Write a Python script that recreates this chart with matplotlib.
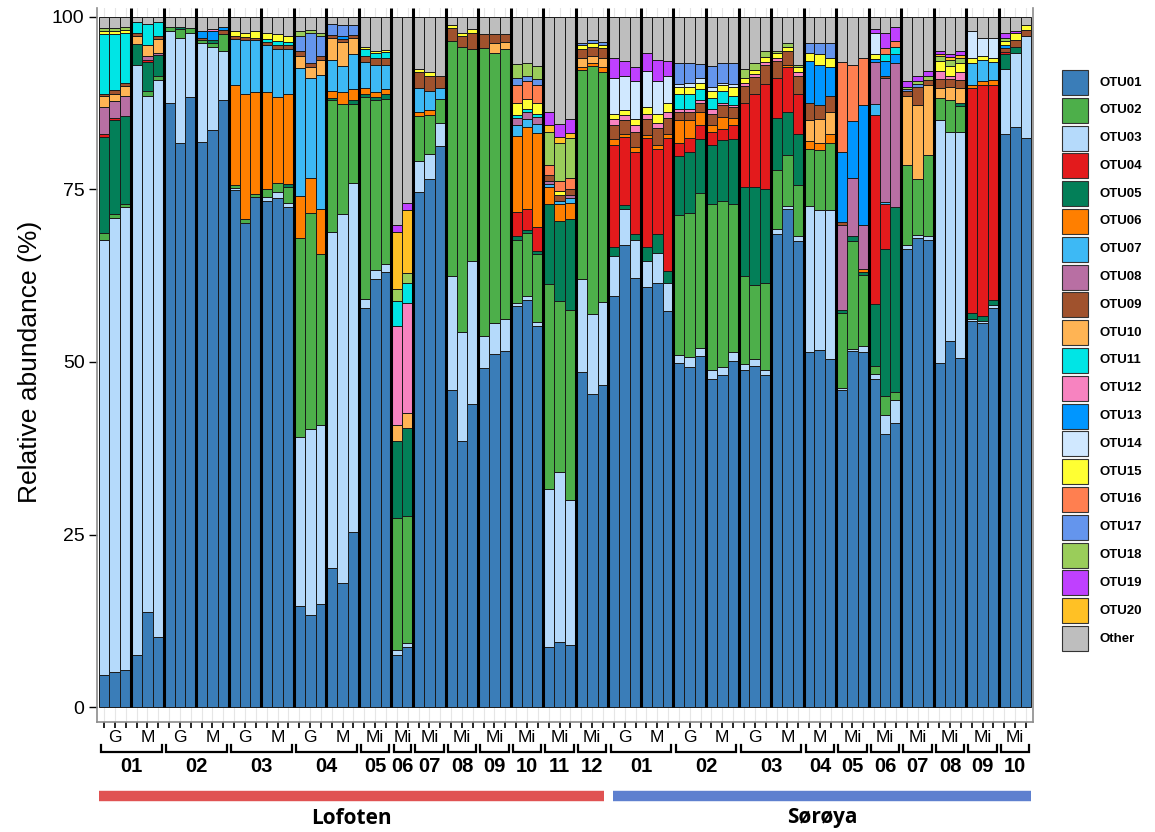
import numpy as np
import matplotlib.pyplot as plt
from matplotlib.patches import Rectangle
from matplotlib.transforms import blended_transform_factory

plt.rcParams['font.family'] = ['Liberation Sans', 'DejaVu Sans']

# --- DATA: relative abundance (%) per sample, 86 samples ---
# each OTU: Lofoten 01-04 | Lofoten 05-12 | Soroya 01-03 | Soroya 04-10
otu01 = ([4.6, 5.1, 5.4, 7.5, 13.8, 10.2, 87.5, 81.7, 88.4, 81.9, 83.6, 88.0, 74.9, 70.1, 73.9, 73.4, 73.7, 72.4, 14.6, 13.3, 15.0, 20.1, 18.0, 25.3]
         + [57.8, 62.0, 63.0, 7.6, 8.7, 74.7, 76.5, 81.3, 46.0, 38.5, 43.9, 49.2, 51.2, 51.6, 58.1, 59.0, 55.2, 8.7, 9.4, 9.0, 48.6, 45.3, 46.7]
         + [59.5, 66.9, 62.2, 60.9, 61.5, 57.4, 49.9, 49.3, 50.9, 47.6, 48.1, 50.2, 48.8, 49.4, 48.1, 68.5, 72.1, 67.6]
         + [51.5, 51.7, 50.5, 45.9, 51.6, 51.4, 47.6, 39.6, 41.1, 66.4, 68.0, 67.7, 49.9, 53.1, 50.6, 55.9, 55.7, 57.8, 83.0, 84.0, 82.4])
otu02 = ([1.0, 0.7, 0.5, 0, 0.6, 0.6, 0.6, 1.3, 0.7, 0.4, 0.6, 2.5, 0.4, 0.6, 0.5, 1.1, 1.3, 2.2, 28.7, 31.3, 24.9, 19.2, 16.0, 11.4]
         + [29.3, 24.7, 23.9, 19.1, 18.4, 6.5, 5.6, 3.4, 34.0, 41.3, 30.8, 41.7, 39.2, 39.1, 9.1, 9.2, 9.9, 29.7, 24.9, 27.6, 30.3, 36.0, 33.3]
         + [0, 0, 0, 0, 0, 0, 20.3, 20.9, 22.4, 24.0, 24.1, 21.5, 12.8, 10.6, 12.5, 8.5, 7.4, 7.4]
         + [8.2, 8.7, 9.8, 10.8, 15.7, 10.3, 1.1, 2.8, 1.2, 11.7, 8.1, 11.8, 3.3, 4.5, 3.7, 0, 0, 0, 0, 0, 0])
otu03 = ([63.1, 65.7, 67.0, 85.6, 74.8, 80.7, 10.5, 15.3, 9.3, 14.3, 12.1, 7.0, 0.3, 0, 0, 0.5, 1.0, 0.7, 24.6, 27.0, 25.8, 48.7, 53.4, 50.7]
         + [1.3, 1.3, 1.2, 0.7, 0.6, 4.4, 3.7, 3.4, 16.5, 15.9, 20.7, 4.6, 4.4, 4.6, 0.5, 0.5, 0.6, 22.9, 24.6, 21.0, 13.4, 11.6, 12.0]
         + [5.8, 5.2, 5.5, 3.7, 4.3, 4.1, 1.1, 1.4, 1.2, 1.3, 1.2, 1.2, 0.9, 1.1, 0.8, 0.8, 0.5, 0.6]
         + [21.1, 20.3, 21.5, 0.4, 0.3, 0.9, 0.7, 2.7, 3.4, 0.5, 0.4, 0.5, 35.1, 30.3, 32.8, 0.3, 0.3, 0.4, 9.5, 10.8, 14.9])
otu04 = ([0.4, 0.3, 0, 0, 0.3, 0] + [0] * 18
         + [0] * 14 + [3.6, 2.9, 3.5] + [0] * 6
         + [14.8, 9.9, 11.9, 15.7, 12.3, 19.2, 1.9, 2.0, 2.0, 1.9, 1.6, 2.0, 12.3, 13.5, 15.2, 5.8, 6.4, 5.8]
         + [0, 0, 0, 0, 0, 0, 27.4, 6.5, 0, 0, 0, 0, 0, 0, 0, 32.6, 33.5, 31.2, 0.3, 0, 0])
otu05 = ([13.9, 13.5, 12.8, 3.0, 4.3, 3.0, 0, 0.3, 0, 0, 0.4, 0, 0, 0, 0, 0, 0, 0.5, 0, 0, 0, 0.3, 0, 0.5]
         + [0.5, 0.4, 0.8, 11.2, 12.8, 0, 0, 0, 0, 0, 0, 0, 0, 0, 0.5, 0.5, 0.4, 11.6, 11.6, 13.1, 0, 0, 0]
         + [1.4, 0.6, 0.9, 2.1, 2.7, 1.7, 8.6, 8.8, 7.8, 8.6, 8.7, 9.4, 12.8, 14.2, 13.7, 7.5, 6.3, 7.5]
         + [0, 0, 0, 0.4, 0.6, 0.4, 9.0, 21.3, 26.8, 0, 0, 0, 0, 0, 0.5, 0.9, 0.7, 0.8, 2.1, 0.9, 0])
otu06 = ([0] * 12 + [14.5, 18.2, 14.7, 14.1, 12.4, 13.0, 6.1, 5.0, 6.4, 0.9, 1.7, 1.7]
         + [0.8, 0.7, 0.7, 0, 0, 0.6, 0.7, 0, 0, 0, 0, 0, 0, 0, 11.0, 11.9, 13.6, 2.4, 2.4, 2.4, 0.5, 0.4, 0.7]
         + [0.8, 0.5, 0.7, 0.5, 0.7, 0.7, 3.2, 2.6, 1.9, 1.0, 1.8, 1.1, 0, 0, 0, 0, 0.4, 0]
         + [1.2, 1.1, 1.2, 0, 0, 0.5, 0, 0, 0, 0, 0, 0, 0, 0, 0, 0.5, 0.5, 0.7, 0, 0, 0])
otu07 = ([0] * 12 + [6.7, 7.8, 7.6, 6.9, 7.0, 6.6, 18.6, 14.6, 19.5, 4.5, 3.8, 5.0]
         + [3.8, 4.0, 3.5, 0, 0, 3.5, 2.7, 1.6, 0, 0, 0, 0, 0, 0, 1.6, 1.2, 1.3, 0.5, 0.4, 0.6, 0, 0, 0]
         + [0] * 18
         + [0, 0, 0, 0, 0, 0, 1.6, 0.3, 0, 0, 0, 0, 0, 0, 0, 3.1, 3.1, 2.6, 0, 0, 0])
otu08 = ([3.9, 2.5, 2.9, 0, 0.6, 0.3] + [0] * 18
         + [0] * 14 + [1.0, 1.0, 1.0, 0.4, 0, 0.5, 0, 0, 0]
         + [0] * 18
         + [0, 0, 0, 12.3, 8.4, 6.4, 6.1, 17.9, 20.8] + [0] * 12)
otu09 = ([0.4, 0.5, 0.4, 0.4, 0, 0.5, 0, 0, 0, 0.4, 0, 0.6, 0.4, 0.4, 0.3, 0.4, 0.6, 0.6, 0.7, 0.6, 0.6, 0.4, 0.4, 0.4]
         + [0.9, 0.9, 1.0, 0, 0, 2.3, 2.3, 1.7, 1.9, 1.5, 2.3, 2.0, 1.3, 1.1, 0, 0, 0, 0.9, 0.9, 0.8, 1.3, 1.3, 1.5]
         + [2.1, 1.9, 2.2, 2.3, 2.4, 2.3, 1.3, 1.3, 1.3, 1.6, 1.7, 1.6, 2.4, 2.5, 2.8, 2.5, 2.0, 2.6]
         + [2.6, 2.1, 2.3, 0.5, 0, 0, 0, 0.4, 0, 0.6, 2.5, 0.8, 1.3, 1.2, 1.2, 0, 0, 0, 0.6, 1.0, 0.8])
otu10 = ([1.6, 1.1, 1.4, 1.2, 1.5, 2.0] + [0] * 12 + [1.8, 1.5, 2.2, 3.3, 3.5, 2.4]
         + [0, 0, 0, 2.3, 2.1, 0, 0, 0, 0, 0, 0, 0, 1.4, 1.1, 0, 0, 0, 0, 0, 0, 1.3, 1.1, 1.3]
         + [0] * 18
         + [3.0, 3.4, 3.2, 0, 0, 0, 0, 0, 0, 10.0, 10.8, 10.1, 1.4, 1.9, 2.1, 0, 0, 0, 0, 0, 0])
otu11 = ([8.6, 8.1, 7.3, 1.6, 3.1, 2.0] + [0] * 9 + [0.4, 0.5, 0.4] + [0] * 6
         + [0.9, 0.8, 0.8, 3.6, 2.9] + [0] * 9 + [0.4, 0.4, 0.4] + [0] * 6
         + [0] * 6 + [2.2, 2.2, 1.7, 1.6, 1.6, 1.3] + [0] * 6
         + [0] * 7 + [1.0, 1.1] + [0] * 12)
otu12 = ([0] * 10 + [0.3] + [0] * 13
         + [0, 0, 0, 14.3, 15.9] + [0] * 18
         + [0.8, 0.8, 1.0, 0.7, 0.8, 0.8, 0.4, 0.4, 0.4, 0.7, 0.4, 0.3, 0.5, 0.4, 0.4, 0.4, 0, 0.5]
         + [0] * 12 + [1.2, 0.4, 1.1] + [0] * 6)
otu13 = ([0] * 9 + [1.0, 1.3, 0.5] + [0] * 10 + [0.5, 0]
         + [0] * 23
         + [0] * 18
         + [6.0, 5.8, 4.2, 10.1, 8.3, 17.4, 0.4, 2.1, 1.3, 0, 0, 0, 0, 0, 0, 0, 0, 0, 0.5, 0, 0])
otu14 = ([0] * 24
         + [0] * 23
         + [5.2, 5.0, 5.5, 5.2, 4.8, 3.9, 0.4, 0.5, 0.6, 0.7, 0.4, 0.4] + [0] * 6
         + [0] * 6 + [3.1, 0, 0] + [0] * 6 + [3.9, 2.6, 3.0, 0, 0, 0])
otu15 = ([0.5, 0.5, 0.4, 0, 0, 0] + [0] * 6 + [0.8, 0.6, 0.9, 0.9, 1.1, 0.9] + [0] * 6
         + [0.3, 0.3, 0.3, 0, 0, 0.5, 0.5, 0, 0.4, 0.5, 0.5, 0, 0, 0, 1.7, 1.5, 1.7, 0, 0.6, 0, 0.5, 0.5, 0.5]
         + [0.8, 0.7, 0.8, 1.1, 1.2, 1.4, 1.0, 1.0, 0.9, 0.9, 0.9, 1.3, 0.7, 0.6, 0.7, 0.8, 0.6, 0.7]
         + [1.2, 1.5, 1.3, 0, 0, 0, 0.7, 0, 0, 0, 0, 0, 1.4, 1.5, 1.3, 0.8, 0.6, 0.5, 0.5, 1.0, 0.7])
otu16 = ([0] * 24
         + [0] * 14 + [2.7, 2.6, 2.6, 1.5, 1.5, 1.6, 0, 0, 0]
         + [0] * 18
         + [0, 0, 0, 13.1, 8.2, 6.8, 0, 0.9, 0.8] + [0] * 12)
otu17 = ([0] * 18 + [2.2, 4.4, 2.8, 1.6, 1.5, 1.4]
         + [0] * 14 + [0.9, 0.8, 0.8, 0, 0, 0, 0.4, 0.4, 0.4]
         + [0] * 6 + [3.0, 2.9, 2.1, 3.0, 2.8, 3.0] + [0] * 6
         + [1.4, 1.6, 2.2] + [0] * 6 + [0.3, 0.5, 0] + [0] * 9)
otu18 = ([0.4, 0.4, 0.5, 0, 0, 0] + [0] * 12 + [0.6, 0.4, 0.5, 0, 0, 0]
         + [0, 0, 0, 1.8, 1.5] + [0] * 9 + [2.1, 1.8, 1.9, 4.8, 5.5, 5.8, 0, 0, 0]
         + [0] * 12 + [1.3, 1.0, 0.9, 0.3, 0.6, 0.4]
         + [0] * 9 + [0.4, 0.4, 0.6, 0.8, 0.9, 0.8, 0, 0, 0, 0.4, 0, 0])
otu19 = ([0] * 24
         + [0, 0, 0, 1.0, 1.1] + [0] * 12 + [1.9, 1.9, 2.0, 0, 0, 0]
         + [2.9, 2.1, 2.0, 2.6, 3.0, 2.1] + [0] * 12
         + [0] * 6 + [0.6, 2.2, 2.1, 0.8, 0.7, 0.7, 0.4, 0.4, 0.6, 0, 0, 0, 0.8, 0.3, 0])
otu20 = ([0] * 24
         + [0, 0, 0, 8.2, 9.1] + [0] * 12 + [0.9, 0.8, 0.8, 0, 0, 0]
         + [0] * 18
         + [0] * 12 + [0.3, 0.4, 0.4] + [0] * 6)

SERIES = {
    'OTU01': otu01, 'OTU02': otu02, 'OTU03': otu03, 'OTU04': otu04, 'OTU05': otu05,
    'OTU06': otu06, 'OTU07': otu07, 'OTU08': otu08, 'OTU09': otu09, 'OTU10': otu10,
    'OTU11': otu11, 'OTU12': otu12, 'OTU13': otu13, 'OTU14': otu14, 'OTU15': otu15,
    'OTU16': otu16, 'OTU17': otu17, 'OTU18': otu18, 'OTU19': otu19, 'OTU20': otu20,
}

COLORS = {
    'OTU01': '#3A7DB8', 'OTU02': '#4DAF4A', 'OTU03': '#B5DAFB', 'OTU04': '#E31A1C',
    'OTU05': '#037F58', 'OTU06': '#FF7F00', 'OTU07': '#3DB9F5', 'OTU08': '#B86FA3',
    'OTU09': '#A0522D', 'OTU10': '#FFB454', 'OTU11': '#00E5E5', 'OTU12': '#F783C0',
    'OTU13': '#0096FF', 'OTU14': '#D0E8FF', 'OTU15': '#FFFF33', 'OTU16': '#FF7F50',
    'OTU17': '#6495ED', 'OTU18': '#9ACD5A', 'OTU19': '#BF40FF', 'OTU20': '#FFC125',
    'Other': '#BEBEBE',
}

# order of stacking from bottom to top
STACK = ['OTU01', 'OTU03', 'OTU02', 'OTU05', 'OTU04', 'OTU06', 'OTU07', 'OTU08', 'OTU10', 'OTU09',
         'OTU13', 'OTU12', 'OTU11', 'OTU15', 'OTU16', 'OTU14', 'OTU17', 'OTU18', 'OTU20', 'OTU19']

SUB_LABELS = ['G', 'M', 'G', 'M', 'G', 'M', 'G', 'M', 'Mi', 'Mi', 'Mi', 'Mi', 'Mi', 'Mi', 'Mi', 'Mi',
              'G', 'M', 'G', 'M', 'G', 'M', 'M', 'Mi', 'Mi', 'Mi', 'Mi', 'Mi', 'Mi']
SUB_SIZES = [3, 3, 3, 3, 3, 3, 3, 3, 3, 2, 3, 3, 3, 3, 3, 3,
             3, 3, 3, 3, 3, 3, 3, 3, 3, 3, 3, 3, 3]
SITE_LABELS = ['01', '02', '03', '04', '05', '06', '07', '08', '09', '10', '11', '12',
               '01', '02', '03', '04', '05', '06', '07', '08', '09', '10']
SITE_SIZES = [6, 6, 6, 6, 3, 2, 3, 3, 3, 3, 3, 3,
              6, 6, 6, 3, 3, 3, 3, 3, 3, 3]
REGIONS = ['Lofoten', 'Sørøya']
REGION_SIZES = [47, 39]
REGION_COLORS = ['#E05252', '#5E80CF']

n = sum(SUB_SIZES)
for k, v in SERIES.items():
    assert len(v) == n, (k, len(v))
total = np.sum([SERIES[k] for k in STACK], axis=0)
other = np.clip(100 - total, 0, None)

W, H = 1155, 832
fig = plt.figure(figsize=(W / 100, H / 100), dpi=100)
ax = fig.add_axes([97 / W, 110 / H, 936 / W, 714 / H])
x = np.arange(n)

bottom = np.zeros(n)
for k in STACK + ['Other']:
    vals = other if k == 'Other' else np.array(SERIES[k], dtype=float)
    ax.bar(x, vals, bottom=bottom, width=1.0, color=COLORS[k],
           edgecolor='#1a1a1a', linewidth=0.7, zorder=2)
    bottom += vals

# thick separators between sub-groups
bounds = np.cumsum(SUB_SIZES)[:-1] - 0.5
ax.vlines(bounds, 0, 101.3, color='black', lw=2.2, zorder=3)

ax.set_xlim(-0.647, n - 0.353)
ax.set_ylim(-2.17, 101.3)
ax.set_yticks([0, 25, 50, 75, 100])
ax.set_yticklabels(['0', '25', '50', '75', '100'], fontsize=14)
ax.set_xticks(x)
ax.set_xticklabels([])
ax.tick_params(axis='y', length=6, width=1, color='black', pad=3)
ax.tick_params(axis='x', length=4, width=1.2, color='black')
ax.set_axisbelow(True)
ax.grid(axis='x', color='#E6E6E6', lw=0.8)
for s in ['left', 'bottom', 'right']:
    ax.spines[s].set_color('#8c8c8c')
    ax.spines[s].set_linewidth(1.2)
ax.spines['top'].set_visible(False)

fig.text(30 / W, 1 - 362 / H, 'Relative abundance (%)', rotation=90,
         fontsize=19, ha='center', va='center')

tr = blended_transform_factory(ax.transData, fig.transFigure)


def fy(py):
    return 1 - py / H


# G / M / Mi labels
start = 0
for lab, sz in zip(SUB_LABELS, SUB_SIZES):
    ax.text(start + (sz - 1) / 2, fy(738), lab, transform=tr, fontsize=12.5,
            ha='center', va='center', clip_on=False)
    start += sz

# site brackets and labels
start = 0
for lab, sz in zip(SITE_LABELS, SITE_SIZES):
    x0, x1 = start - 0.5 + 0.2, start + sz - 0.5 - 0.2
    ax.plot([x0, x0, x1, x1], [fy(745), fy(752), fy(752), fy(745)], transform=tr,
            color='black', lw=1.6, clip_on=False, solid_joinstyle='miter')
    ax.text(start + (sz - 1) / 2, fy(767), lab, transform=tr, fontsize=14.5,
            fontweight='bold', ha='center', va='center', clip_on=False)
    start += sz

# region bars
start = 0
for i, (lab, sz, col) in enumerate(zip(REGIONS, REGION_SIZES, REGION_COLORS)):
    x0 = start - 0.5 + (0.4 if i > 0 else 0)
    x1 = start + sz - 0.5 - (0.45 if i == 0 else 0)
    ax.plot([x0, x1], [fy(796), fy(796)], transform=tr, color=col, lw=7.5,
            solid_capstyle='butt', clip_on=False)
    ax.text((x0 + x1) / 2, fy(818), lab, transform=tr, fontsize=15,
            fontweight='bold', family=['Open Sans', 'DejaVu Sans'],
            ha='center', va='center', clip_on=False)
    start += sz

# legend
LEGEND = ['OTU%02d' % i for i in range(1, 21)] + ['Other']
for k, name in enumerate(LEGEND):
    top = 70 + 27.8 * k
    fig.patches.append(Rectangle((1062 / W, fy(top + 25)), 26 / W, 25 / H,
                                 transform=fig.transFigure, facecolor=COLORS[name],
                                 edgecolor='#333333', lw=0.8))
    fig.text(1099 / W, fy(top + 12.5), name, fontsize=9.5, fontweight='bold',
             ha='left', va='center')

fig.savefig('out.png', dpi=100)
